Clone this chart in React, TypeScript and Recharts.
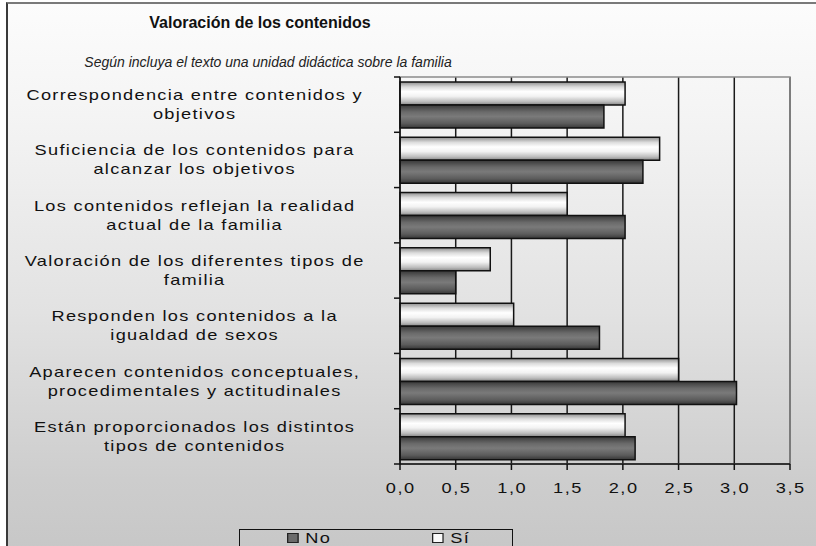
import { BarChart, Bar, XAxis, YAxis, CartesianGrid, Legend, ReferenceArea } from 'recharts';

const categories = [
  'Correspondencia entre contenidos y\nobjetivos',
  'Suficiencia de los contenidos para\nalcanzar los objetivos',
  'Los contenidos reflejan la realidad\nactual de la familia',
  'Valoración de los diferentes tipos de\nfamilia',
  'Responden los contenidos a la\nigualdad de sexos',
  'Aparecen contenidos conceptuales,\nprocedimentales y actitudinales',
  'Están proporcionados los distintos\ntipos de contenidos',
];
const siValues = [2.02, 2.33, 1.5, 0.81, 1.02, 2.5, 2.02];
const noValues = [1.83, 2.18, 2.02, 0.5, 1.79, 3.02, 2.11];
const xTicks = [0, 0.5, 1, 1.5, 2, 2.5, 3, 3.5];
const legendOrder = ['no', 'si'];

const title = 'Valoración de los contenidos';
const subtitle = 'Según incluya el texto una unidad didáctica sobre la familia';

const data = categories.map((name, i) => ({ name, si: siValues[i], no: noValues[i] }));

const FONT = 'Arial, "Liberation Sans", sans-serif';
// the labels in the original are drawn wide
const STRETCH = 1.3;

const fmt = (v: number) => v.toFixed(1).replace('.', ',');

function WideText({ x, y, children, ls = 1 }: any) {
  return (
    <text
      transform={`translate(${x},${y}) scale(${STRETCH},1)`}
      x={ls / 2}
      y={0}
      textAnchor="middle"
      fontFamily={FONT}
      fontSize={14}
      letterSpacing={ls}
      fill="#111"
    >
      {children}
    </text>
  );
}

function CategoryTick(props: any) {
  const { x, y, payload, height } = props;
  const lines: string[] = String(payload.value).split('\n');
  const half = payload.offset ?? height / categories.length / 2;
  const isLast = payload.index === categories.length - 1;
  return (
    <g>
      <line x1={x - 6} x2={x} y1={y - half} y2={y - half} stroke="#111" strokeWidth={1.5} />
      {isLast && <line x1={x - 6} x2={x} y1={y + half} y2={y + half} stroke="#111" strokeWidth={1.5} />}
      {lines.map((ln, i) => (
        <WideText key={i} x={x - 206} y={y + 5 + (i - (lines.length - 1) / 2) * 19} ls={1}>
          {ln}
        </WideText>
      ))}
    </g>
  );
}

function ValueTick(props: any) {
  const { x, y, payload } = props;
  return (
    <WideText x={x} y={y + 21} ls={1.2}>
      {fmt(payload.value)}
    </WideText>
  );
}

function LegendBox(props: any) {
  const items = legendOrder
    .map((k) => (props.payload || []).find((p: any) => p.dataKey === k))
    .filter(Boolean);
  return (
    <div style={{ width: 274, height: 17, border: '1.5px solid #111', borderBottom: 'none', boxSizing: 'border-box', position: 'relative' }}>
      {items.map((it: any, i: number) => (
        <div
          key={it.value}
          style={{ position: 'absolute', left: 47 + i * 145, top: 1, display: 'flex', alignItems: 'center', transform: `scaleX(${STRETCH})`, transformOrigin: 'left center' }}
        >
          <span
            style={{
              display: 'inline-block',
              width: 7,
              height: 8,
              border: '1px solid #222',
              background: it.dataKey === 'no' ? '#6a6a6a' : '#fafafa',
              marginRight: 5,
            }}
          />
          <span style={{ fontFamily: FONT, fontSize: 14, letterSpacing: 1, color: '#111', lineHeight: '14px' }}>{it.value}</span>
        </div>
      ))}
    </div>
  );
}

export default function App() {
  return (
    <div
      style={{
        position: 'absolute',
        left: 0,
        top: 0,
        width: 816,
        height: 546,
        overflow: 'hidden',
        background: '#fff',
      }}
    >
      <div
        style={{
          position: 'absolute',
          left: 6,
          top: 2,
          width: 808,
          height: 560,
          borderLeft: '2px solid #3a3a3a',
          borderTop: '2px solid #7a7a7a',
          borderRight: '2px solid #8a8a8a',
          background: 'linear-gradient(to bottom, #fcfcfc 0%, #f4f4f4 20%, #e2e2e2 55%, #cdcdcd 85%, #c6c6c6 100%)',
        }}
      />
      <div
        style={{
          position: 'absolute',
          left: 60,
          top: 14,
          width: 400,
          textAlign: 'center',
          fontFamily: FONT,
          fontWeight: 'bold',
          fontSize: 16,
          color: '#111',
        }}
      >
        {title}
      </div>
      <div
        style={{
          position: 'absolute',
          left: 18,
          top: 54,
          width: 500,
          textAlign: 'center',
          fontFamily: FONT,
          fontStyle: 'italic',
          fontSize: 14,
          color: '#222',
        }}
      >
        {subtitle}
      </div>
      <div style={{ position: 'absolute', left: 0, top: 0 }}>
        <BarChart
          width={816}
          height={546}
          data={data}
          layout="vertical"
          margin={{ top: 77, right: 26, bottom: 52, left: 0 }}
          barSize={23}
          barGap={0}
        >
          <defs>
            <linearGradient id="gradSi" x1="0" y1="0" x2="0" y2="1">
              <stop offset="0%" stopColor="#8e8e8e" />
              <stop offset="22%" stopColor="#dcdcdc" />
              <stop offset="42%" stopColor="#ffffff" />
              <stop offset="62%" stopColor="#f2f2f2" />
              <stop offset="85%" stopColor="#bdbdbd" />
              <stop offset="100%" stopColor="#858585" />
            </linearGradient>
            <linearGradient id="gradNo" x1="0" y1="0" x2="0" y2="1">
              <stop offset="0%" stopColor="#383838" />
              <stop offset="30%" stopColor="#6a6a6a" />
              <stop offset="50%" stopColor="#7a7a7a" />
              <stop offset="80%" stopColor="#5c5c5c" />
              <stop offset="100%" stopColor="#363636" />
            </linearGradient>
          </defs>
          <CartesianGrid horizontal={false} stroke="#1a1a1a" strokeWidth={1.5} />
          <ReferenceArea x1={0} x2={3.5} fill="none" stroke="#8c8c8c" strokeWidth={1.5} />
          <XAxis
            type="number"
            domain={[0, 3.5]}
            ticks={xTicks}
            height={30}
            tickSize={6}
            tickMargin={2}
            axisLine={{ stroke: '#111', strokeWidth: 1.5 }}
            tickLine={{ stroke: '#111', strokeWidth: 1.5 }}
            tick={<ValueTick />}
            interval={0}
          />
          <YAxis
            type="category"
            dataKey="name"
            width={400}
            tickSize={0}
            tickMargin={0}
            tickLine={false}
            axisLine={{ stroke: '#111', strokeWidth: 1.5 }}
            tick={<CategoryTick />}
            interval={0}
          />
          <Legend
            layout="horizontal"
            verticalAlign="middle"
            align="center"
            content={<LegendBox />}
            wrapperStyle={{ left: 239, top: 529, width: 274, height: 17 }}
          />
          <Bar dataKey="si" name="Sí" fill="url(#gradSi)" stroke="#111" strokeWidth={1.5} isAnimationActive={false} />
          <Bar dataKey="no" name="No" fill="url(#gradNo)" stroke="#111" strokeWidth={1.5} isAnimationActive={false} />
        </BarChart>
      </div>
    </div>
  );
}
